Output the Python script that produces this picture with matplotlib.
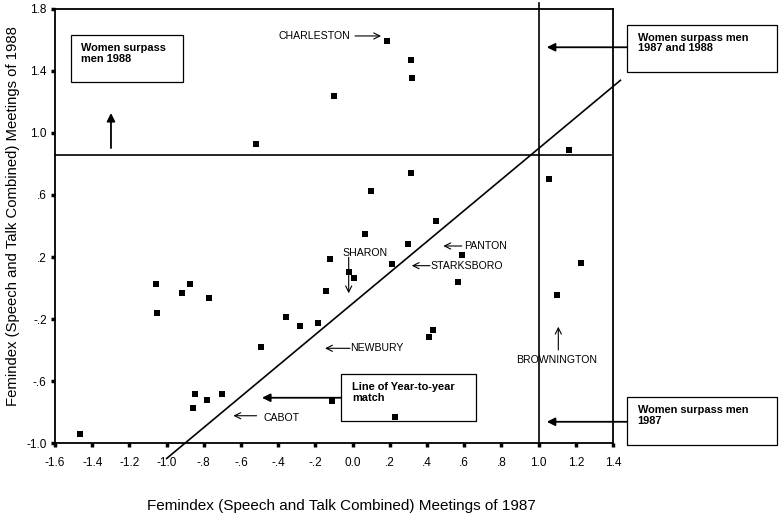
import matplotlib
matplotlib.use("Agg")
import matplotlib.pyplot as plt
import numpy as np

plt.rcParams['font.family'] = ['Liberation Sans', 'DejaVu Sans']

# femindex per town, 1987 (x) against 1988 (y)
fem_1987 = [0.183, -0.102, -0.519, 0.312, 0.319, 1.165, 0.312, 1.058, 0.097, 0.067,
            0.448, 0.298, 0.586, -0.124, 0.212, -0.018, 0.009, 0.565, -0.145, -0.360,
            -0.285, -0.184, -0.491, 0.432, 0.411, -0.111, 0.228, -1.055, -0.873, -0.917,
            -0.772, -1.050, -0.849, -0.704, -0.781, -0.858, -1.467, 1.228, 1.097]
fem_1988 = [1.594, 1.237, 0.927, 1.473, 1.355, 0.888, 0.744, 0.705, 0.626, 0.350,
            0.430, 0.284, 0.211, 0.188, 0.155, 0.103, 0.067, 0.037, -0.017, -0.189,
            -0.243, -0.228, -0.383, -0.273, -0.316, -0.731, -0.830, 0.028, 0.028, -0.034,
            -0.062, -0.163, -0.686, -0.686, -0.721, -0.776, -0.940, 0.163, -0.047]

x_ticks = np.arange(-1.6, 1.41, 0.2)
x_labels = ["-1.6", "-1.4", "-1.2", "-1.0", "-.8", "-.6", "-.4", "-.2", "0.0",
            ".2", ".4", ".6", ".8", "1.0", "1.2", "1.4"]
y_ticks = [-1.0, -0.6, -0.2, 0.2, 0.6, 1.0, 1.4, 1.8]
y_labels = ["-1.0", "-.6", "-.2", ".2", ".6", "1.0", "1.4", "1.8"]

# reference lines
threshold_1988 = 0.855
threshold_1987 = 1.0
match_offset = -0.1
match_x = [-1.0, 1.44]

fig = plt.figure(figsize=(7.8, 5.19), dpi=100)
ax = fig.add_axes([0.0705, 0.1464, 0.7154, 0.8363])

ax.scatter(fem_1987, fem_1988, marker='s', s=22, color='black', linewidths=0, zorder=3)

ax.set_xlim(-1.6, 1.4)
ax.set_ylim(-1.0, 1.8)
ax.set_xticks(x_ticks)
ax.set_xticklabels(x_labels)
ax.set_yticks(y_ticks)
ax.set_yticklabels(y_labels)
ax.tick_params(direction='out', length=3, width=2.5, labelsize=8.5)
ax.tick_params(axis='x', pad=7)
ax.tick_params(axis='y', pad=3)
for sp in ax.spines.values():
    sp.set_linewidth(1.3)

ax.set_xlabel("Femindex (Speech and Talk Combined) Meetings of 1987", fontsize=11)
ax.set_ylabel("Femindex (Speech and Talk Combined) Meetings of 1988", fontsize=10.7)
ax.xaxis.set_label_coords(0.5125, -0.145)
ax.xaxis.label.set_va('center')
ax.yaxis.set_label_coords(-0.075, 0.523)
ax.yaxis.label.set_va('center')

ax.plot([-1.6, 1.39], [threshold_1988, threshold_1988], color='black', lw=1.2, clip_on=False)
ax.plot([threshold_1987, threshold_1987], [-1.0, 1.84], color='black', lw=1.2, clip_on=False)
ax.plot(match_x, [v + match_offset for v in match_x], color='black', lw=1.2, clip_on=False)

# boxed notes
def note_box(x0, y0, x1, y1, lines):
    ax.add_patch(plt.Rectangle((x0, y1), x1 - x0, y0 - y1, fill=True, facecolor='white',
                               edgecolor='black', lw=0.9, clip_on=False, zorder=2))
    ax.text(x0 + 0.058, y0 - 0.05, lines, fontsize=7.9, fontweight='bold', va='top', ha='left',
            linespacing=1.1, zorder=4, clip_on=False)

note_box(-1.516, 1.632, -0.914, 1.329, "Women surpass\nmen 1988")
note_box(1.474, 1.697, 2.282, 1.395, "Women surpass men\n1987 and 1988")
note_box(1.474, -0.705, 2.282, -1.013, "Women surpass men\n1987")
note_box(-0.062, -0.555, 0.663, -0.858, "Line of Year-to-year\nmatch")

solid = dict(arrowstyle='-|>', color='black', lw=1.3, mutation_scale=12, shrinkA=0, shrinkB=0)
ax.annotate("", xy=(1.044, 1.553), xytext=(1.474, 1.553), arrowprops=solid, annotation_clip=False)
ax.annotate("", xy=(1.044, -0.863), xytext=(1.474, -0.863), arrowprops=solid, annotation_clip=False)
ax.annotate("", xy=(-0.487, -0.708), xytext=(-0.062, -0.708), arrowprops=solid, annotation_clip=False)
ax.annotate("", xy=(-1.299, 1.129), xytext=(-1.299, 0.903), arrowprops=solid, annotation_clip=False)

# town labels with open arrows
opn = dict(arrowstyle='->', color='black', lw=0.8, mutation_scale=11, shrinkA=0, shrinkB=0)
town_fs = 7.6
ax.text(-0.396, 1.626, "CHARLESTON", fontsize=town_fs, va='center', ha='left')
ax.annotate("", xy=(0.153, 1.626), xytext=(0.013, 1.626), arrowprops=opn)
ax.text(-0.053, 0.226, "SHARON", fontsize=town_fs, va='center', ha='left')
ax.annotate("", xy=(-0.021, -0.034), xytext=(-0.021, 0.198), arrowprops=opn)
ax.text(0.601, 0.271, "PANTON", fontsize=town_fs, va='center', ha='left')
ax.annotate("", xy=(0.488, 0.271), xytext=(0.587, 0.271), arrowprops=opn)
ax.text(0.416, 0.144, "STARKSBORO", fontsize=town_fs, va='center', ha='left')
ax.annotate("", xy=(0.318, 0.144), xytext=(0.416, 0.144), arrowprops=opn)
ax.text(-0.014, -0.389, "NEWBURY", fontsize=town_fs, va='center', ha='left')
ax.annotate("", xy=(-0.148, -0.389), xytext=(-0.014, -0.389), arrowprops=opn)
ax.text(-0.48, -0.841, "CABOT", fontsize=town_fs, va='center', ha='left')
ax.annotate("", xy=(-0.641, -0.824), xytext=(-0.516, -0.824), arrowprops=opn)
ax.text(1.099, -0.465, "BROWNINGTON", fontsize=town_fs, va='center', ha='center')
ax.annotate("", xy=(1.106, -0.25), xytext=(1.106, -0.40), arrowprops=opn)

fig.savefig("out.png", dpi=100)
